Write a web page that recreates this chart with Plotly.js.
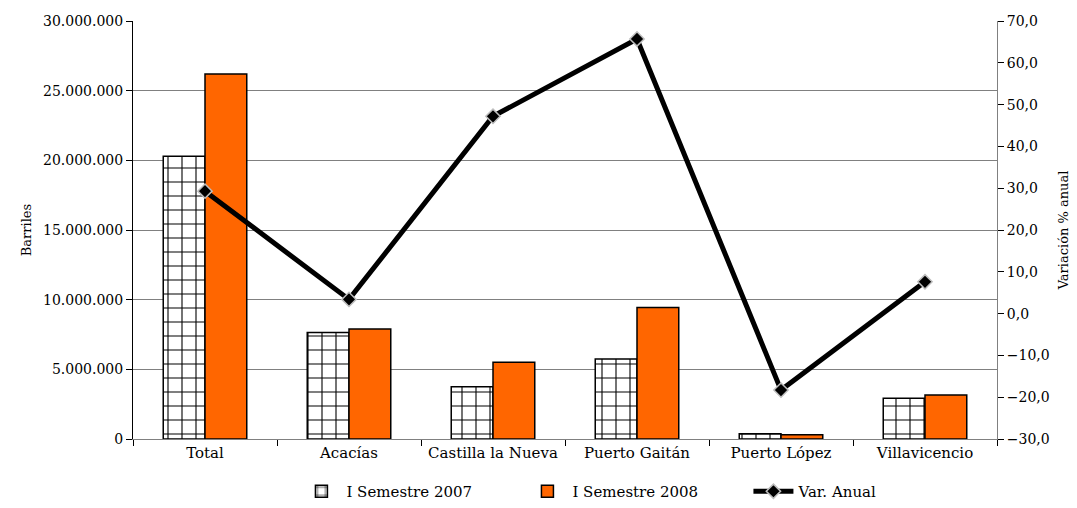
<!DOCTYPE html>
<html>
<head>
<meta charset="utf-8">
<script src="https://cdn.plot.ly/plotly-3.0.1.min.js"></script>
<style>html,body{margin:0;padding:0;background:#fff;}#chart{width:1077px;height:508px;}</style>
</head>
<body>
<div id="chart"></div>
<script>
const categories = ["Total", "Acacías", "Castilla la Nueva", "Puerto Gaitán", "Puerto López", "Villavicencio"];
const sem2007 = [20300000, 7650000, 3750000, 5740000, 380000, 2920000];
const sem2008 = [26200000, 7900000, 5500000, 9430000, 310000, 3160000];
const varAnual = [29.3, 3.4, 47.2, 65.7, -18.3, 7.6];
const leftTicks = [0, 5000000, 10000000, 15000000, 20000000, 25000000, 30000000];
const rightTicks = [-30, -20, -10, 0, 10, 20, 30, 40, 50, 60, 70];

const FONT = "DejaVu Serif";

const traces = [
  {
    type: "bar", name: "I Semestre 2007", x: categories, y: sem2007,
    marker: {
      color: "#ffffff",
      line: {color: "#000000", width: 1.5},
      pattern: {shape: "+", size: 14, solidity: 0.15, fgcolor: "#000000", bgcolor: "#ffffff", fillmode: "replace"}
    },
    hoverinfo: "skip"
  },
  {
    type: "bar", name: "I Semestre 2008", x: categories, y: sem2008,
    marker: {color: "#ff6600", line: {color: "#000000", width: 1.5}},
    hoverinfo: "skip"
  },
  {
    type: "scatter", mode: "lines+markers", name: "Var. Anual", x: categories, y: varAnual,
    yaxis: "y2",
    line: {color: "#000000", width: 5},
    marker: {symbol: "diamond", size: 11, color: "#000000", line: {color: "#bdbdbd", width: 1.5}},
    hoverinfo: "skip"
  }
];

const layout = {
  width: 1077, height: 508,
  margin: {l: 133, r: 80, t: 21, b: 69, autoexpand: false},
  paper_bgcolor: "#ffffff", plot_bgcolor: "#ffffff",
  separators: ",.",
  font: {family: FONT, size: 14, color: "#000000"},
  barmode: "group", bargap: 0.42, bargroupgap: 0,
  showlegend: true,
  legend: {orientation: "h", x: 0.59, xanchor: "center", xref: "container",
           y: -0.008, yanchor: "bottom", yref: "container",
           font: {family: FONT, size: 15}, itemwidth: 40, entrywidth: 171, entrywidthmode: "pixels",
           traceorder: "normal"},
  xaxis: {
    type: "category", showgrid: false, showline: true, linecolor: "#808080", linewidth: 1,
    ticks: "outside", ticklen: 6, tickcolor: "#000000", tickson: "boundaries",
    tickfont: {family: FONT, size: 15}, zeroline: false, fixedrange: true, automargin: false
  },
  yaxis: {
    range: [0, 30000000], tickvals: leftTicks, tickformat: ",d",
    showgrid: true, gridcolor: "#808080", gridwidth: 1,
    showline: true, linecolor: "#000000", linewidth: 1,
    ticks: "outside", ticklen: 6, tickcolor: "#000000",
    zeroline: false, tickfont: {family: FONT, size: 14},
    title: {text: "Barriles", font: {family: FONT, size: 13}, standoff: 8},
    fixedrange: true, automargin: false
  },
  yaxis2: {
    overlaying: "y", side: "right", range: [-30, 70], tickvals: rightTicks, tickformat: ".1f",
    showgrid: false, showline: true, linecolor: "#808080", linewidth: 1,
    ticks: "outside", ticklen: 6, tickcolor: "#000000",
    zeroline: false, tickfont: {family: FONT, size: 14},
    title: {text: "Variación % anual", font: {family: FONT, size: 13}, standoff: 10},
    fixedrange: true, automargin: false
  }
};

Plotly.newPlot("chart", traces, layout, {displayModeBar: false, staticPlot: true});
</script>
</body>
</html>
